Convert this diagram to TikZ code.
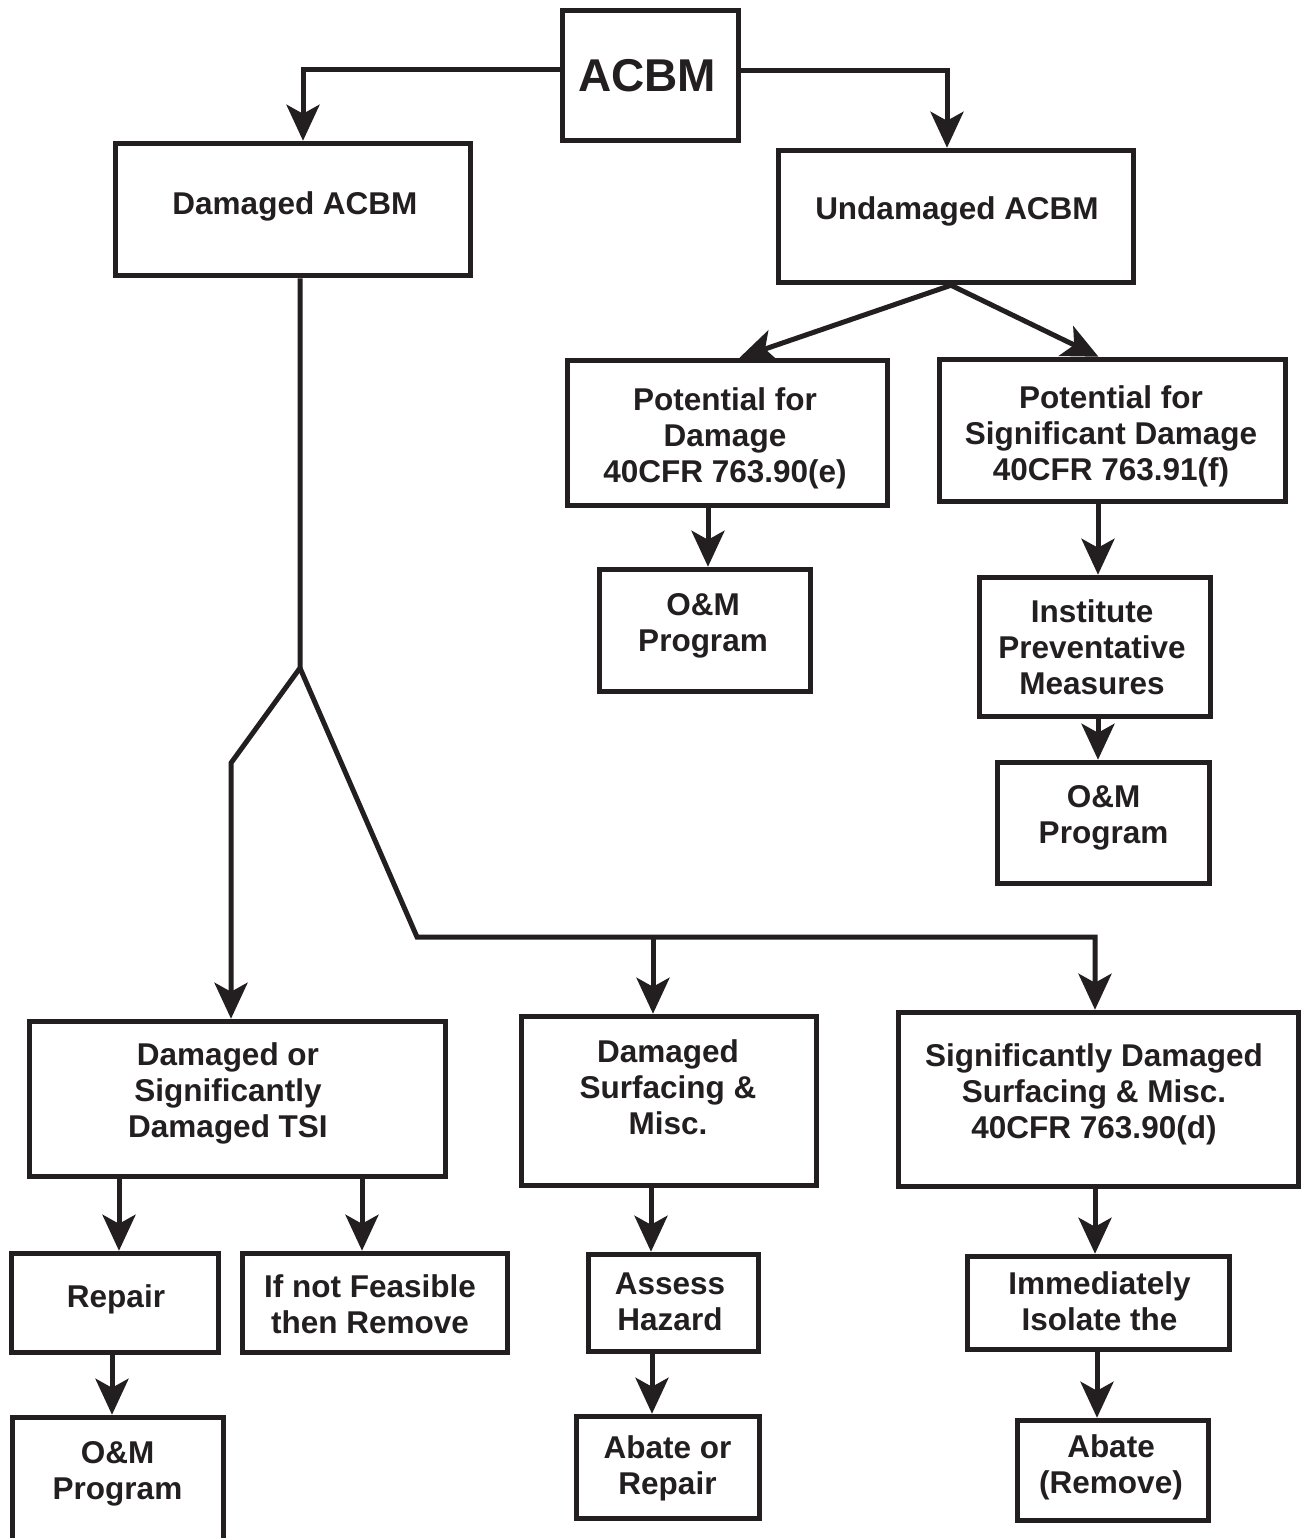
\documentclass[tikz,border=0pt]{standalone}
\usepackage{fontspec}
\setmainfont{Liberation Sans}
\usetikzlibrary{arrows.meta,calc,fit}
\definecolor{ink}{RGB}{35,31,32}
\begin{document}
\begin{tikzpicture}[x=1pt,y=-1pt,
  box/.style={draw=ink, line width=5.5pt, inner sep=0pt},
  txt/.style={text=ink, font=\fontsize{31.5}{36}\selectfont\bfseries, align=center, inner sep=0pt, anchor=north},
  txtone/.style={text=ink, font=\fontsize{31.5}{36}\selectfont\bfseries, inner sep=0pt, anchor=base},
  conn/.style={draw=ink, line width=5pt},
  arr/.style={conn, -{Stealth[length=36pt,width=33pt,inset=9pt]}}]
\useasboundingbox (0,0) rectangle (1302,1538);
\clip (0,0) rectangle (1302,1538);
\fill[white] (0,0) rectangle (1302,1538);
% boxes
\node[box, fit={(562.5,10.5) (738.5,140.5)}] (acbm) {};
\node[box, fit={(115.5,143.5) (470.5,275.5)}] (dam) {};
\node[box, fit={(778.5,150.5) (1133.5,282.5)}] (und) {};
\node[box, fit={(567.5,360.5) (887.5,505.5)}] (pote) {};
\node[box, fit={(939.5,359.5) (1285.5,501.5)}] (potsig) {};
\node[box, fit={(599.5,569.5) (810.5,691.5)}] (om1) {};
\node[box, fit={(979.5,577.5) (1210.5,716.5)}] (inst) {};
\node[box, fit={(997.5,762.5) (1209.5,883.5)}] (om2) {};
\node[box, fit={(29.5,1021.5) (445.5,1176.5)}] (tsi) {};
\node[box, fit={(521.5,1016.5) (816.5,1185.5)}] (damsurf) {};
\node[box, fit={(898.5,1012.5) (1298.5,1186.5)}] (sigdam) {};
\node[box, fit={(11.5,1253.5) (218.5,1352.5)}] (repair) {};
\node[box, fit={(242.5,1253.5) (507.5,1352.5)}] (feas) {};
\node[box, fit={(588.5,1254.5) (758.5,1351.5)}] (assess) {};
\node[box, fit={(967.5,1256.5) (1229.5,1349.5)}] (immed) {};
\node[box, fit={(12.5,1417.5) (223.5,1560)}] (om3) {};
\node[box, fit={(576.5,1416.5) (759.5,1518.5)}] (abater) {};
\node[box, fit={(1017.5,1420.5) (1208.5,1520.5)}] (abaterem) {};
% texts
\node[txtone, font=\fontsize{46}{52}\selectfont\bfseries] (tacbm) at (647,92) {ACBM};
\node[txtone] (tdam) at (295,215) {Damaged ACBM};
\node[txtone] (tund) at (957,220) {Undamaged ACBM};
\node[txtone] (trep) at (116,1307) {Repair};
\node[txt] (tpote) at (725,384.8) {\strut Potential for\\Damage\\40CFR 763.90(e)};
\node[txt] (tpotsig) at (1111,382.8) {\strut Potential for\\Significant Damage\\40CFR 763.91(f)};
\node[txt] (tom1) at (703,589.8) {\strut O\&M\\Program};
\node[txt] (tinst) at (1092,596.8) {\strut Institute\\Preventative\\Measures};
\node[txt] (tom2) at (1103.5,781.8) {\strut O\&M\\Program};
\node[txt] (ttsi) at (228,1039.8) {\strut Damaged or\\Significantly\\Damaged TSI};
\node[txt] (tfeas) at (370,1271.8) {\strut If not Feasible\\then Remove};
\node[txt] (tom3) at (117.5,1437.8) {\strut O\&M\\Program};
\node[txt] (tdamsurf) at (668,1036.8) {\strut Damaged\\Surfacing \&\\Misc.};
\node[txt] (tassess) at (670,1268.8) {\strut Assess\\Hazard};
\node[txt] (tabater) at (667.5,1433.4) {\strut Abate or\\Repair};
\node[txt] (tsigdam) at (1094,1041.3) {\strut Significantly Damaged\\Surfacing \& Misc.\\40CFR 763.90(d)};
\node[txt] (timmed) at (1099.5,1268.8) {\strut Immediately\\Isolate the};
\node[txt] (tabaterem) at (1111,1431.8) {\strut Abate\\(Remove)};
% top connectors
\draw[arr] ([yshift=6pt]acbm.west) -| ([xshift=10pt]dam.north);
\draw[arr] ([yshift=5pt]acbm.east) -| ([xshift=-9pt]und.north);
\coordinate (us) at ([xshift=-5pt]und.south);
\draw[arr] (us) -- ([xshift=12pt]pote.north);
\draw[arr] (us) -- ([xshift=-14pt]potsig.north);
% vertical arrows
\coordinate (a1) at ([xshift=-19.5pt]pote.south);
\draw[arr] (a1) -- (a1 |- om1.north);
\coordinate (a2) at ([xshift=-14.5pt]potsig.south);
\draw[arr] (a2) -- (a2 |- inst.north);
\coordinate (a3) at ([xshift=3pt]inst.south);
\draw[arr] (a3) -- (a3 |- om2.north);
\coordinate (a4) at ([xshift=-118.5pt]tsi.south);
\draw[arr] (a4) -- (a4 |- repair.north);
\coordinate (a5) at ([xshift=124.5pt]tsi.south);
\draw[arr] (a5) -- (a5 |- feas.north);
\coordinate (a6) at ([xshift=-3pt]repair.south);
\draw[arr] (a6) -- (a6 |- om3.north);
\coordinate (a7) at ([xshift=-18pt]damsurf.south);
\draw[arr] (a7) -- (a7 |- assess.north);
\coordinate (a8) at ([xshift=-21.5pt]assess.south);
\draw[arr] (a8) -- (a8 |- abater.north);
\coordinate (a9) at ([xshift=-3.5pt]sigdam.south);
\draw[arr] (a9) -- (a9 |- immed.north);
\coordinate (a10) at ([xshift=-1.5pt]immed.south);
\draw[arr] (a10) -- (a10 |- abaterem.north);
% tree from Damaged ACBM
\coordinate (d0) at ([xshift=7pt]dam.south);
\coordinate (j) at (300,668);
\coordinate (jl) at (231,763);
\coordinate (jr) at (417,937);
\coordinate (jm) at (653,937);
\coordinate (jc) at (1095,937);
\draw[arr] (d0) -- (j) -- (jl) -- (jl |- tsi.north);
\draw[arr] (j) -- (jr) -- (jc) -- (jc |- sigdam.north);
\draw[arr] (jm) -- (jm |- damsurf.north);
\end{tikzpicture}
\end{document}
